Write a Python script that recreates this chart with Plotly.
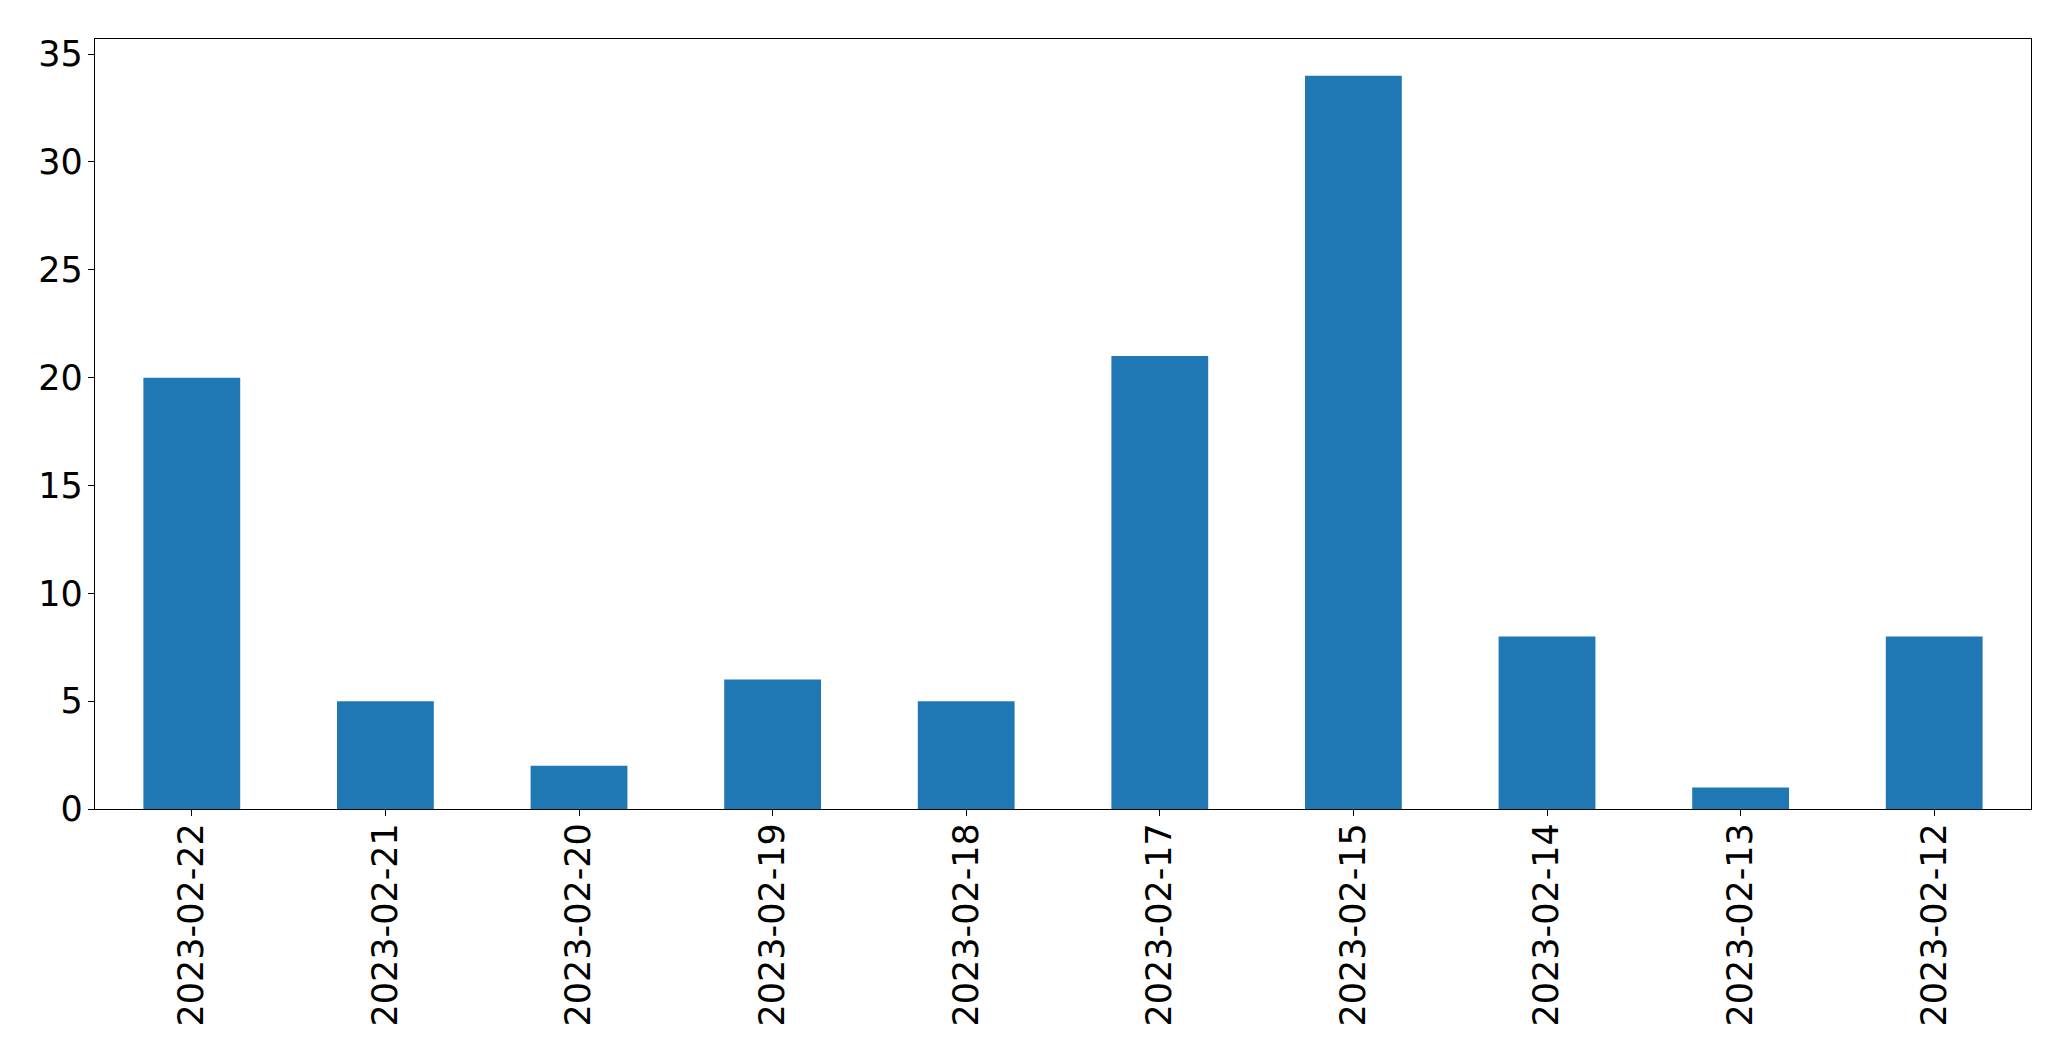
import plotly.graph_objects as go

# values
dates = ["2023-02-22", "2023-02-21", "2023-02-20", "2023-02-19", "2023-02-18",
         "2023-02-17", "2023-02-15", "2023-02-14", "2023-02-13", "2023-02-12"]
counts = [20, 5, 2, 6, 5, 21, 34, 8, 1, 8]
y_ticks = [0, 5, 10, 15, 20, 25, 30, 35]

fig = go.Figure(go.Bar(x=dates, y=counts, width=0.5, marker_color="#1f77b4",
                       marker_line_width=0))

axis_common = dict(showline=True, linecolor="black", linewidth=1.3, mirror=True,
                   showgrid=False, zeroline=False, ticks="outside", ticklen=6,
                   tickwidth=1.3, tickcolor="black",
                   tickfont=dict(family="DejaVu Sans", size=35, color="black"))

# page body adds an 8px offset, so margins are trimmed to keep the plot box in place
fig.update_layout(
    width=2071, height=1061,
    margin=dict(l=87, r=48, t=31, b=260),
    paper_bgcolor="white", plot_bgcolor="white",
    showlegend=False,
    xaxis=dict(type="category", range=[-0.5, 9.5], tickangle=-90,
               ticklabelstandoff=-7, **axis_common),
    yaxis=dict(range=[0, 35.7], tickvals=y_ticks, ticklabelstandoff=-2,
               **axis_common),
)

fig.write_html("out.html")
